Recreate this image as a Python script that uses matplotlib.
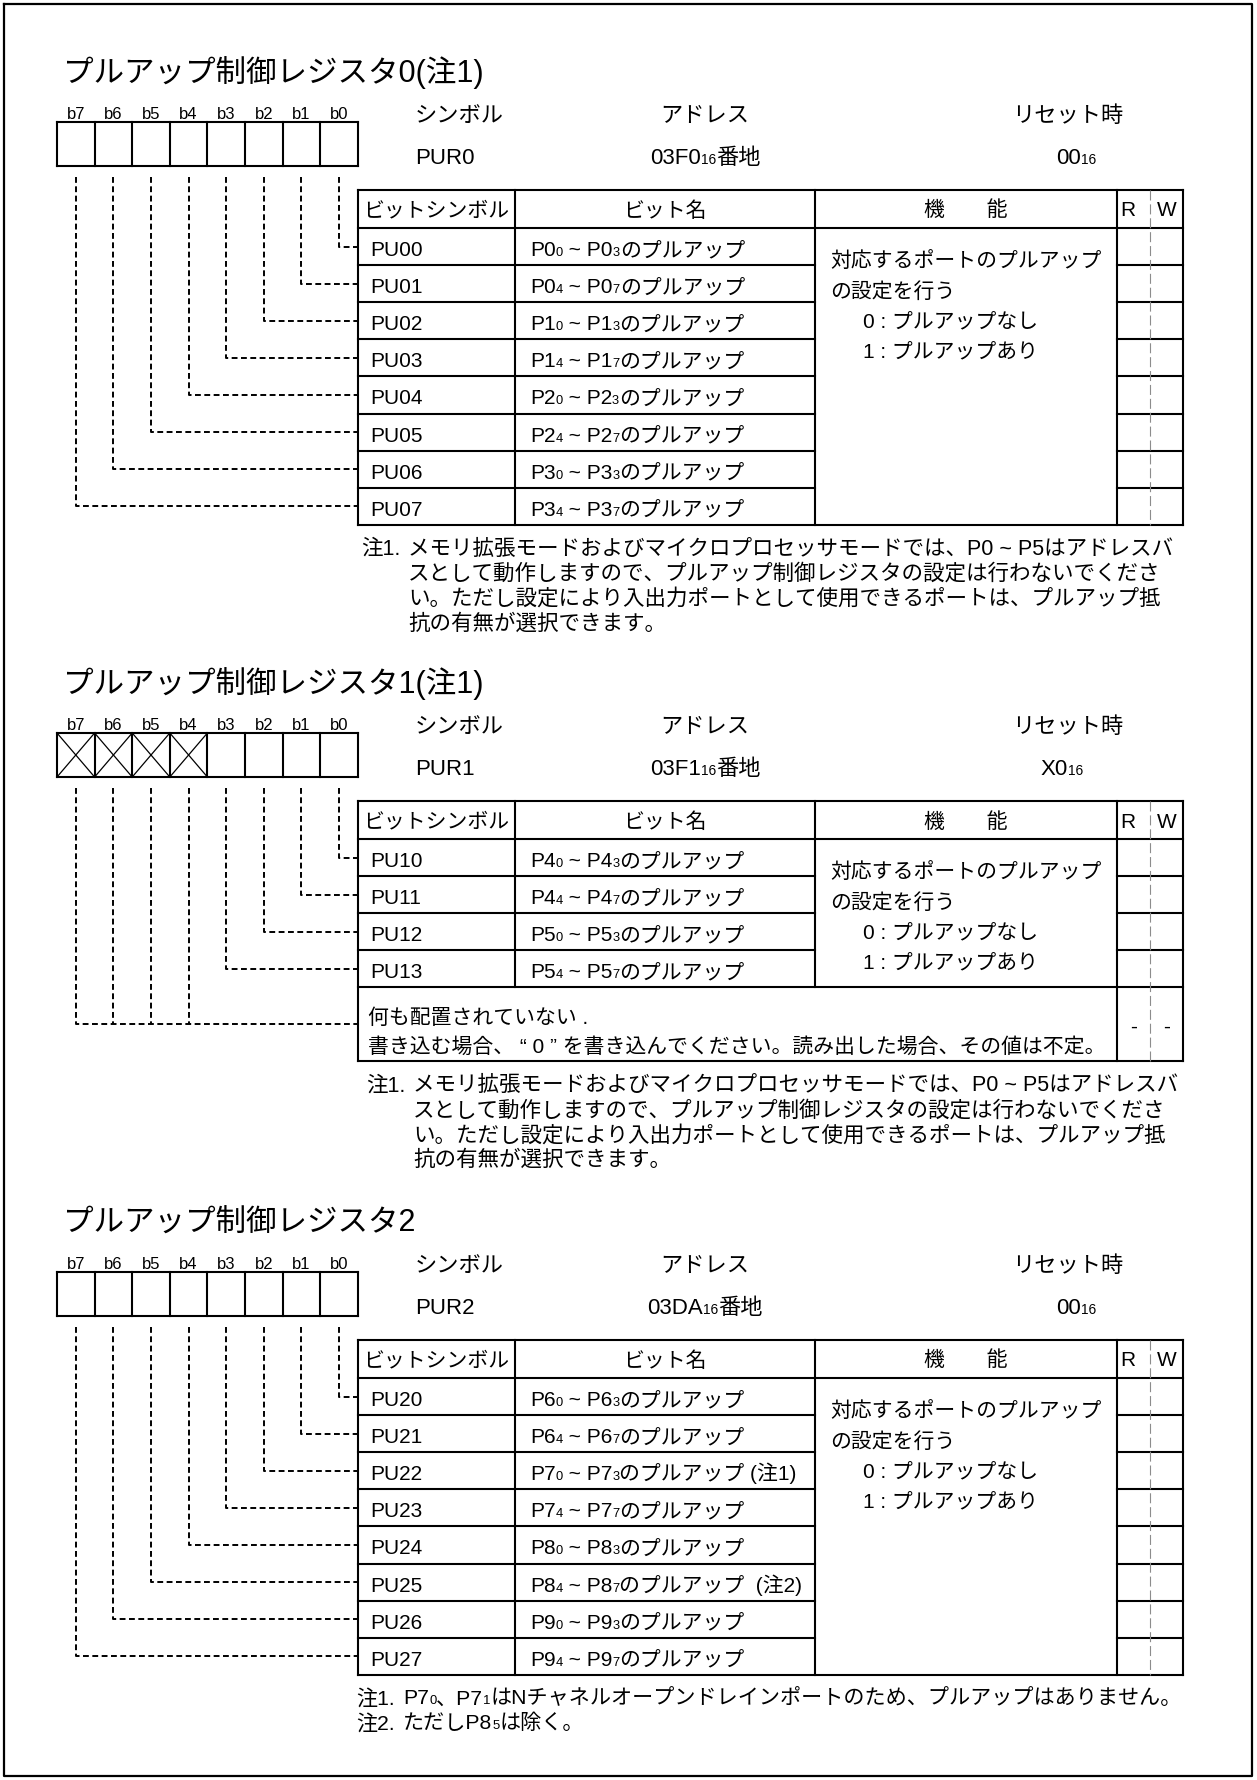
import re
import matplotlib
matplotlib.use('Agg')
import matplotlib.pyplot as plt

# ---- content ----
REG_TITLES = ["プルアップ制御レジスタ0(注1)", "プルアップ制御レジスタ1(注1)", "プルアップ制御レジスタ2"]
REG_SYMBOLS = ["PUR0", "PUR1", "PUR2"]
REG_ADDRS = ["03F0{16}番地", "03F1{16}番地", "03DA{16}番地"]
REG_RESETS = ["00{16}", "X0{16}", "00{16}"]
HEAD_LABELS = ["シンボル", "アドレス", "リセット時"]
BIT_LABELS = ["b7", "b6", "b5", "b4", "b3", "b2", "b1", "b0"]
COL_HEADERS = ["ビットシンボル", "ビット名", "機　　能"]

PUR0_SYMS = ["PU00", "PU01", "PU02", "PU03", "PU04", "PU05", "PU06", "PU07"]
PUR0_NAMES = ["P0{0} ~ P0{3}のプルアップ", "P0{4} ~ P0{7}のプルアップ",
              "P1{0} ~ P1{3}のプルアップ", "P1{4} ~ P1{7}のプルアップ",
              "P2{0} ~ P2{3}のプルアップ", "P2{4} ~ P2{7}のプルアップ",
              "P3{0} ~ P3{3}のプルアップ", "P3{4} ~ P3{7}のプルアップ"]
PUR1_SYMS = ["PU10", "PU11", "PU12", "PU13"]
PUR1_NAMES = ["P4{0} ~ P4{3}のプルアップ", "P4{4} ~ P4{7}のプルアップ",
              "P5{0} ~ P5{3}のプルアップ", "P5{4} ~ P5{7}のプルアップ"]
PUR2_SYMS = ["PU20", "PU21", "PU22", "PU23", "PU24", "PU25", "PU26", "PU27"]
PUR2_NAMES = ["P6{0} ~ P6{3}のプルアップ", "P6{4} ~ P6{7}のプルアップ",
              "P7{0} ~ P7{3}のプルアップ (注1)", "P7{4} ~ P7{7}のプルアップ",
              "P8{0} ~ P8{3}のプルアップ", "P8{4} ~ P8{7}のプルアップ  (注2)",
              "P9{0} ~ P9{3}のプルアップ", "P9{4} ~ P9{7}のプルアップ"]
FUNC_LINES = ["対応するポートのプルアップ", "の設定を行う", "0 : プルアップなし", "1 : プルアップあり"]
UNUSED_TEXT = ["何も配置されていない .",
               "書き込む場合、 “ 0 ” を書き込んでください。読み出した場合、その値は不定。"]

NOTE_A = [("注1.", "メモリ拡張モードおよびマイクロプロセッサモードでは、P0 ~ P5はアドレスバ"),
          ("", "スとして動作しますので、プルアップ制御レジスタの設定は行わないでくださ"),
          ("", "い。ただし設定により入出力ポートとして使用できるポートは、プルアップ抵"),
          ("", "抗の有無が選択できます。")]
NOTE_C = [("注1.", "P7{0}、P7{1}はNチャネルオープンドレインポートのため、プルアップはありません。"),
          ("注2.", "ただしP8{5}は除く。")]

FAM = ['Liberation Sans', 'Noto Sans CJK JP']
PX = 100 / 72

fig = plt.figure(figsize=(12.57, 17.80), dpi=100)
ax = fig.add_axes([0, 0, 1, 1])
ax.set_xlim(0, 1257)
ax.set_ylim(1780, 0)
ax.axis('off')
R = fig.canvas.get_renderer()


def rich(x, yc, s, size, ha='left'):
    # text with {small} digits sitting on the baseline
    items = []
    for p in re.split(r'(\{[^}]*\})', s):
        if not p:
            continue
        if p[0] == '{':
            items.append((p[1:-1], size * 0.62))
        else:
            items.append((p, size))
    base = yc + 0.36 * size * PX
    ts = [ax.text(0, base, t, fontsize=sz, family=FAM, va='baseline', ha='left')
          for t, sz in items]
    ws = [t.get_window_extent(R).width for t in ts]
    x0 = x - sum(ws) / 2 if ha == 'center' else x
    for t, w in zip(ts, ws):
        t.set_x(x0)
        x0 += w


def line(xs, ys, **kw):
    kw.setdefault('color', 'black')
    kw.setdefault('lw', 1.5)
    ax.plot(xs, ys, solid_capstyle='projecting', **kw)


DASH = dict(color='black', lw=1.4, linestyle=(0, (3, 1.8)))

BOX_L, CELL = 57, 37.6
TBL = [358, 515, 815, 1117, 1183]
RW_MID = 1150
ROW_H, HEAD_H = 37.1, 38


def section(y0, k, syms, names, unused_bits, notes, note_x, body_x, note_size=15.5):
    rich(63, y0, REG_TITLES[k], 22)
    # bit box
    bt, bb = y0 + 51, y0 + 95
    for i, lab in enumerate(BIT_LABELS):
        rich(BOX_L + CELL * (i + 0.5), y0 + 42, lab, 12, 'center')
    line([BOX_L, BOX_L + 8 * CELL], [bt, bt])
    line([BOX_L, BOX_L + 8 * CELL], [bb, bb])
    for i in range(9):
        line([BOX_L + CELL * i] * 2, [bt, bb])
    for b in unused_bits:
        i = 7 - b
        xl, xr = BOX_L + CELL * i, BOX_L + CELL * (i + 1)
        line([xl, xr], [bt, bb], lw=0.9)
        line([xl, xr], [bb, bt], lw=0.9)
    # header labels
    rich(415, y0 + 43, HEAD_LABELS[0], 16)
    rich(415, y0 + 85, REG_SYMBOLS[k], 16)
    rich(705, y0 + 43, HEAD_LABELS[1], 16, 'center')
    rich(705, y0 + 85, REG_ADDRS[k], 16, 'center')
    rich(1068, y0 + 43, HEAD_LABELS[2], 16, 'center')
    rich(1062 if k == 1 else 1076, y0 + 85, REG_RESETS[k], 16, 'center')

    # table
    t0 = y0 + 119
    hb = t0 + HEAD_H
    n = len(syms)
    pb = hb + n * ROW_H
    bottom = pb + 74 if unused_bits else pb
    line([TBL[0], TBL[4]], [t0, t0])
    line([TBL[0], TBL[4]], [hb, hb])
    line([TBL[0], TBL[4]], [pb, pb])
    if unused_bits:
        line([TBL[0], TBL[4]], [bottom, bottom])
    for r in range(1, n):
        y = hb + r * ROW_H
        line([TBL[0], TBL[2]], [y, y])
        line([TBL[3], TBL[4]], [y, y])
    line([TBL[0]] * 2, [t0, bottom])
    line([TBL[4]] * 2, [t0, bottom])
    line([TBL[3]] * 2, [t0, bottom])
    line([TBL[1]] * 2, [t0, pb])
    line([TBL[2]] * 2, [t0, pb])
    ax.plot([RW_MID] * 2, [t0, bottom], color='#8c8c8c', lw=0.8, linestyle=(0, (9, 3.5)))

    hc = (t0 + hb) / 2
    rich((TBL[0] + TBL[1]) / 2, hc, COL_HEADERS[0], 15, 'center')
    rich((TBL[1] + TBL[2]) / 2, hc, COL_HEADERS[1], 15, 'center')
    rich((TBL[2] + TBL[3]) / 2, hc, COL_HEADERS[2], 15, 'center')
    rich(1128, hc, "R", 15, 'center')
    rich(1167, hc, "W", 15, 'center')

    for r, (s, nm) in enumerate(zip(syms, names)):
        yc = hb + (r + 0.5) * ROW_H + 2
        rich(370, yc, s, 15)
        rich(530, yc, nm, 15)
    for j, fl in enumerate(FUNC_LINES):
        rich(830 if j < 2 else 863, hb + [31, 62, 92, 122][j], fl, 15)

    if unused_bits:
        rich(368, pb + 29, UNUSED_TEXT[0], 15)
        rich(368, pb + 58, UNUSED_TEXT[1], 15)
        rich(1133.5, pb + 38, "-", 15, 'center')
        rich(1166.5, pb + 38, "-", 15, 'center')

    # connectors from bits to rows
    ds = y0 + 106
    for b in range(8):
        x = BOX_L + CELL * (7 - b + 0.5)
        if b < n:
            ty = hb + (b + 0.5) * ROW_H
            ax.plot([x, x, TBL[0]], [ds, ty, ty], **DASH)
        else:
            ty = (pb + bottom) / 2
            if b == 7:
                ax.plot([x, x, TBL[0]], [ds, ty, ty], **DASH)
            else:
                ax.plot([x, x], [ds, ty], **DASH)

    # notes
    for j, (lab, body) in enumerate(notes):
        y = bottom + 22 + 25 * j
        if lab:
            rich(note_x, y, lab, note_size)
        rich(body_x, y, body, note_size)


section(71, 0, PUR0_SYMS, PUR0_NAMES, [], NOTE_A, 361, 408)
section(682, 1, PUR1_SYMS, PUR1_NAMES, [7, 6, 5, 4], NOTE_A, 366, 413)
section(1221, 2, PUR2_SYMS, PUR2_NAMES, [], NOTE_C, 356, 403, 15.2)

# outer frame
line([4, 1252, 1252, 4, 4], [4, 4, 1776, 1776, 4], lw=1.6)

fig.savefig('out.png', dpi=100)
